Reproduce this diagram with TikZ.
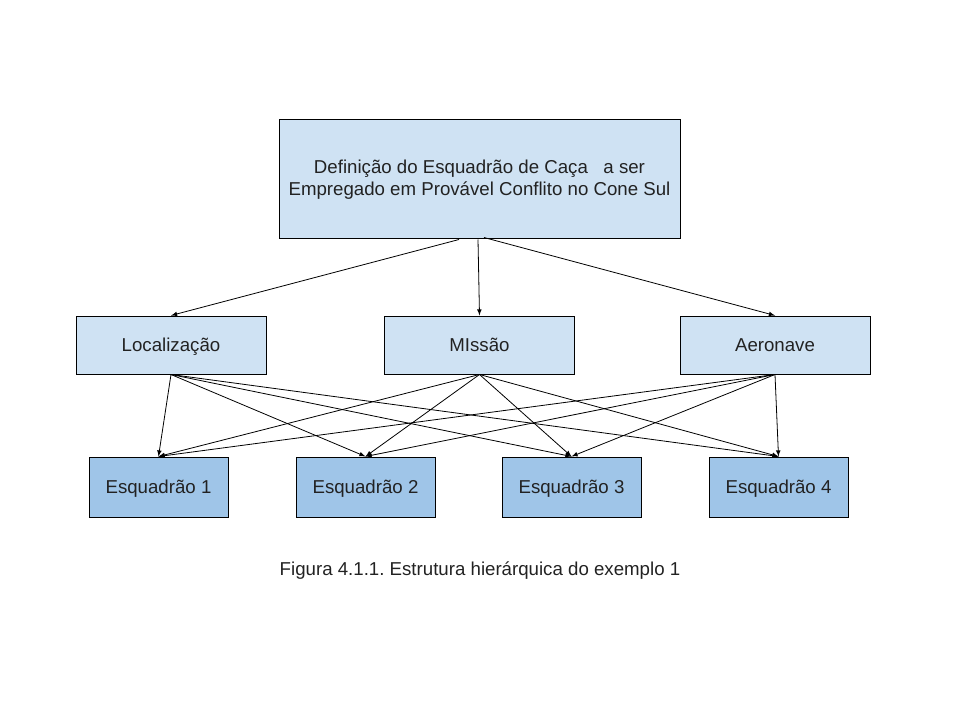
\documentclass[tikz,border=0pt]{standalone}
\usepackage{fontspec}
\setmainfont{Liberation Sans}
\usepackage{tikz}
\usetikzlibrary{arrows, calc, positioning}
\definecolor{lightblue}{HTML}{CFE2F3}
\definecolor{midblue}{HTML}{9FC5E8}
\definecolor{inktext}{HTML}{222222}
\frenchspacing
\newcommand\hierlink[2]{
    \draw [link] (#1) -- (#2);
}
\tikzstyle{goalbox}     = [rectangle,draw=black,fill=lightblue,text=inktext,line width=0.75pt,align=center,minimum width=300.75pt,minimum height=89.25pt]
\tikzstyle{criterion}   = [rectangle,draw=black,fill=lightblue,text=inktext,line width=0.75pt,align=center,minimum width=142.5pt,minimum height=43.5pt,text height=11.5pt,text depth=1.5pt]
\tikzstyle{alternative} = [rectangle,draw=black,fill=midblue,text=inktext,line width=0.75pt,align=center,minimum width=104.25pt,minimum height=45pt,text height=11.5pt,text depth=1.5pt]
\tikzstyle{link}        = [line width=0.6pt,-{latex}]

\begin{document}
\begin{tikzpicture}[x=0.75pt,y=-0.75pt,font=\fontsize{14}{16.5}\selectfont]
        \useasboundingbox (0,0) rectangle (960,720);

        \node[goalbox]     (goal)     at (479.5,179.5) {\raisebox{-1.5pt}{Definição do Esquadrão de Caça\ \ \ a ser}\\ \raisebox{-1.5pt}{Empregado em Provável Conflito no Cone Sul}};
        \node[criterion]   (local)    at (171,345)     {Localização};
        \node[criterion]   (missao)   at (479.5,345)   {MIssão};
        \node[criterion]   (aeronave) at (775,345)     {Aeronave};
        \node[alternative] (esq 1)    at (158.5,487)   {Esquadrão 1};
        \node[alternative] (esq 2)    at (365.5,487)   {Esquadrão 2};
        \node[alternative] (esq 3)    at (571.5,487)   {Esquadrão 3};
        \node[alternative] (esq 4)    at (778.5,487)   {Esquadrão 4};

        \node[text=inktext] (caption) at (480,571) {Figura 4.1.1. Estrutura hierárquica do exemplo 1};

        \hierlink{$(goal.south)+(-20.5,0)$}{local.north}
        \hierlink{$(goal.south)+(-1.5,0)$}{missao.north}
        \hierlink{$(goal.south)+(4.5,-2)$}{aeronave.north}

        \hierlink{local.south}{esq 1.north}
        \hierlink{local.south}{esq 2.north}
        \hierlink{local.south}{esq 3.north}
        \hierlink{local.south}{esq 4.north}
        \hierlink{missao.south}{esq 1.north}
        \hierlink{missao.south}{esq 2.north}
        \hierlink{missao.south}{esq 3.north}
        \hierlink{missao.south}{esq 4.north}
        \hierlink{aeronave.south}{esq 1.north}
        \hierlink{aeronave.south}{esq 2.north}
        \hierlink{aeronave.south}{esq 3.north}
        \hierlink{aeronave.south}{esq 4.north}
    \end{tikzpicture}
\end{document}
